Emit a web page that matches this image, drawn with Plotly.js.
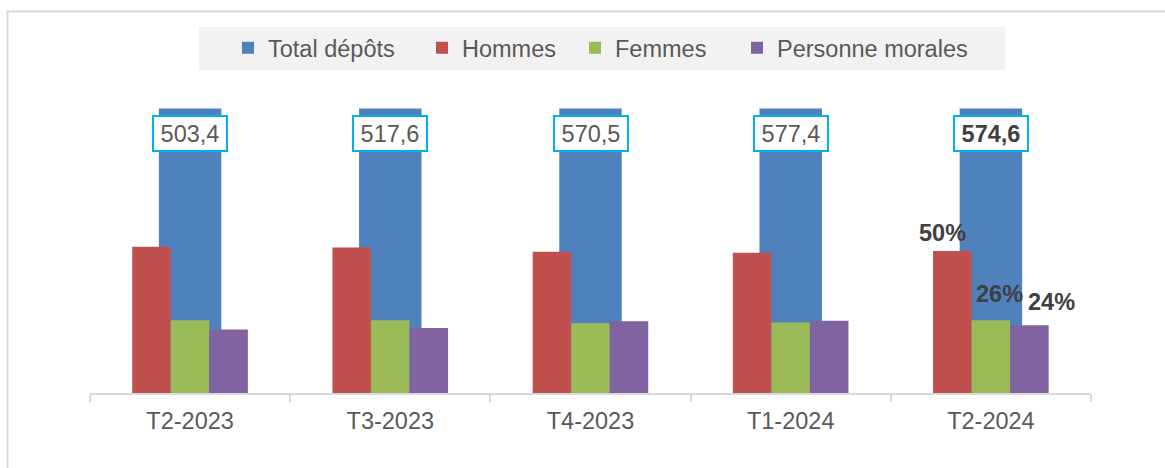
<!DOCTYPE html>
<html><head><meta charset="utf-8">
<script src="https://cdn.plot.ly/plotly-3.0.1.min.js"></script>
<style>html,body{margin:0;padding:0;background:#fff}#chart{width:1165px;height:468px}</style>
</head><body><div id="chart"></div>
<script>
// ---- data ----
const categories = ['T2-2023', 'T3-2023', 'T4-2023', 'T1-2024', 'T2-2024'];
const totalDepots = [503.4, 517.6, 570.5, 577.4, 574.6];   // label values
const totalShare = [100, 100, 100, 100, 100];                // bar height (%)
const hommes = [51.4, 51.1, 49.6, 49.3, 49.9];
const femmes = [25.6, 25.6, 24.5, 24.8, 25.6];
const personnesMorales = [22.3, 22.8, 25.2, 25.4, 23.8];
const seriesNames = ['Total dépôts', 'Hommes', 'Femmes', 'Personne morales'];

// ---- styles ----
const W = 1165, H = 468;
const FONT = '"Liberation Sans", Arial, sans-serif';
const COLORS = ['#4f81bd', '#c0504d', '#9bbb59', '#8064a2'];
const FS = 23.5;

function legendAt(px, py) {
  return {x: px / W, y: 1 - py / H, xref: 'container', yref: 'container',
    xanchor: 'left', yanchor: 'middle', orientation: 'h',
    bgcolor: 'rgba(0,0,0,0)', borderwidth: 0,
    font: {family: FONT, size: FS, color: '#595959'}};
}

const barW = 0.1925;
const traces = [
  {type: 'bar', name: seriesNames[0], x: categories, y: totalShare,
   width: 0.312, offset: -0.156, marker: {color: COLORS[0]}, legend: 'legend'},
  {type: 'bar', name: seriesNames[1], x: categories, y: hommes,
   width: barW, offset: -0.289, marker: {color: COLORS[1]}, legend: 'legend2'},
  {type: 'bar', name: seriesNames[2], x: categories, y: femmes,
   width: barW, offset: -0.0965, marker: {color: COLORS[2]}, legend: 'legend3'},
  {type: 'bar', name: seriesNames[3], x: categories, y: personnesMorales,
   width: barW, offset: 0.096, marker: {color: COLORS[3]}, legend: 'legend4'}
];
traces.forEach(t => { t.hoverinfo = 'skip'; });

const annotations = [];
categories.forEach((c, i) => {
  const last = i === categories.length - 1;
  const txt = totalDepots[i].toFixed(1).replace('.', ',');
  annotations.push({
    x: c, y: totalShare[i], xref: 'x', yref: 'y', yshift: -25,
    text: last ? '<b>' + txt + '</b>' : txt, showarrow: false,
    xanchor: 'center', yanchor: 'middle',
    font: {family: FONT, size: FS, color: last ? '#404040' : '#595959'},
    bgcolor: '#ffffff', bordercolor: '#00b0f0', borderwidth: 2, borderpad: 1,
    width: 70, height: 31
  });
});
const li = categories.length - 1;
const pctLabels = [
  {vals: hommes, xs: -48.5, ys: 18},
  {vals: femmes, xs: 9, ys: 26},
  {vals: personnesMorales, xs: 61, ys: 23.5}
];
pctLabels.forEach(p => {
  annotations.push({
    x: categories[li], y: p.vals[li], xref: 'x', yref: 'y',
    xshift: p.xs, yshift: p.ys, showarrow: false,
    xanchor: 'center', yanchor: 'middle',
    text: '<b>' + Math.round(p.vals[li]) + '%</b>',
    font: {family: FONT, size: FS, color: '#404040'}
  });
});

const ml = 90, mr = 74, mt = 80, mb = 75;
const pw = W - ml - mr, ph = H - mt - mb;
const px2x = px => (px - ml) / pw;
const py2y = py => (H - mb - py) / ph;

const layout = {
  width: W, height: H,
  margin: {l: ml, r: mr, t: mt, b: mb, pad: 0},
  paper_bgcolor: '#ffffff', plot_bgcolor: 'rgba(0,0,0,0)',
  font: {family: FONT, size: FS, color: '#595959'},
  barmode: 'overlay',
  showlegend: true,
  legend: legendAt(228, 48),
  legend2: legendAt(422, 48),
  legend3: legendAt(575, 48),
  legend4: legendAt(737, 48),
  xaxis: {
    type: 'category', range: [-0.5, 4.5], fixedrange: true,
    showline: true, linecolor: '#d9d9d9', linewidth: 2,
    ticks: 'outside', tickson: 'boundaries', ticklen: 7,
    tickcolor: '#d9d9d9', tickwidth: 2, ticklabelstandoff: 6,
    showgrid: false, zeroline: false,
    tickfont: {family: FONT, size: FS, color: '#595959'}
  },
  yaxis: {range: [0, 110], visible: false, fixedrange: true},
  shapes: [
    {type: 'rect', layer: 'below', xref: 'paper', yref: 'paper',
     x0: px2x(199), x1: px2x(1005), y0: py2y(70), y1: py2y(26.7),
     fillcolor: '#f2f2f2', line: {width: 0}},
    {type: 'rect', layer: 'below', xref: 'paper', yref: 'paper',
     x0: px2x(7.5), x1: px2x(1200), y0: py2y(520), y1: py2y(11.5),
     fillcolor: 'rgba(0,0,0,0)', line: {color: '#d9d9d9', width: 2}}
  ],
  annotations: annotations
};

Plotly.newPlot('chart', traces, layout, {displayModeBar: false, staticPlot: true});
</script>
</body></html>
